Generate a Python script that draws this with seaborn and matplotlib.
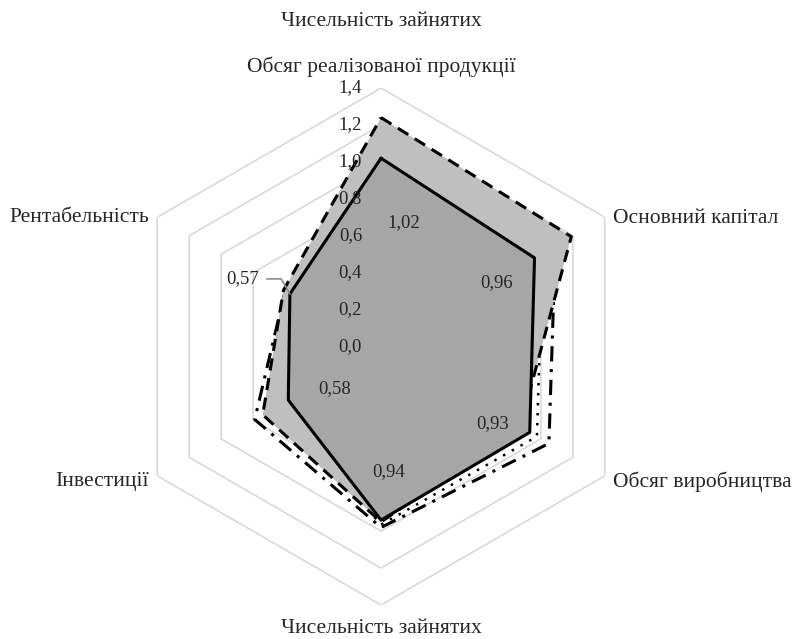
import numpy as np
import pandas as pd
import matplotlib
matplotlib.use('Agg')
import matplotlib.pyplot as plt
import seaborn as sns

sns.set_theme(style='white')
plt.rcParams['font.family'] = ['Liberation Serif', 'DejaVu Serif']

# дані
categories = ['Обсяг реалізованої продукції', 'Основний капітал', 'Обсяг виробництва',
              'Чисельність зайнятих', 'Інвестиції', 'Рентабельність']
light_area = [1.24, 1.19, 0.87, 0.95, 0.74, 0.61]
dark_area = [1.02, 0.96, 0.93, 0.94, 0.58, 0.57]
dashdot_line = [1.10, 1.09, 1.05, 0.98, 0.79, 0.60]
dotted_line = [1.05, 1.01, 0.975, 0.965, 0.65, 0.58]
r_ticks = [0.0, 0.2, 0.4, 0.6, 0.8, 1.0, 1.2, 1.4]
r_tick_labels = ['0,0', '0,2', '0,4', '0,6', '0,8', '1,0', '1,2', '1,4']
dark_labels = ['1,02', '0,96', '0,93', '0,94', '0,58', '0,57']
title = 'Чисельність зайнятих'

TEXT = '#262626'
FS_CAT = 15.5
FS_NUM = 13.5

n = len(categories)
theta = np.linspace(0, 2 * np.pi, n, endpoint=False)
theta_c = np.append(theta, theta[0])


def closed(v):
    return np.append(v, v[0])


fig = plt.figure(figsize=(7.93, 6.39), dpi=100)
ax = fig.add_axes([0.1545, 0.0532, 0.652, 0.809], projection='polar')
ax.set_theta_zero_location('N')
ax.set_theta_direction(-1)
ax.set_ylim(0, 1.4)
ax.grid(False)
ax.set_xticks([])
ax.set_yticks([])
ax.spines['polar'].set_visible(False)
ax.patch.set_alpha(0)

# шестикутна сітка
for t in r_ticks[1:]:
    ax.plot(theta_c, [t] * (n + 1), color='#d9d9d9', lw=1.2, zorder=1)

# лінійні ряди (під заливками)
df_dd = pd.DataFrame({'theta': theta_c, 'r': closed(dashdot_line)})
sns.lineplot(data=df_dd, x='theta', y='r', sort=False, estimator=None, ax=ax,
             color='black', lw=2.2, linestyle=(0, (5, 2.5, 1, 2.5)), zorder=2)
df_dt = pd.DataFrame({'theta': theta_c, 'r': closed(dotted_line)})
sns.lineplot(data=df_dt, x='theta', y='r', sort=False, estimator=None, ax=ax,
             color='black', lw=1.8, linestyle=(0, (1, 3)), zorder=2)

# заливки
ax.fill(theta_c, closed(light_area), color='#bfbfbf', zorder=3, lw=0)
ax.plot(theta_c, closed(light_area), color='black', lw=2.2,
        linestyle=(0, (4, 2.5)), zorder=3.5)
ax.fill(theta_c, closed(dark_area), color='#a6a6a6', zorder=4, lw=0)
ax.plot(theta_c, closed(dark_area), color='black', lw=2.2, zorder=4.5)
ax.set_xlabel('')
ax.set_ylabel('')
ax.set_ylim(0, 1.4)

# підписи шкали
for t, lab in zip(r_ticks, r_tick_labels):
    ax.annotate(lab, xy=(0, t), xytext=(-19, 0), textcoords='offset pixels',
                ha='right', va='center', fontsize=FS_NUM, color=TEXT, zorder=6)

# підписи даних
offsets = [(23, -64), (-38, -25), (-37, 9), (8, 48), (46, 11)]
for i, (dx, dy) in enumerate(offsets):
    ax.annotate(dark_labels[i], xy=(theta[i], dark_area[i]), xytext=(dx, dy),
                textcoords='offset pixels', ha='center', va='center',
                fontsize=FS_NUM, color=TEXT, zorder=6)
ax.annotate(dark_labels[5], xy=(theta[5], dark_area[5]), xytext=(-47, 15),
            textcoords='offset pixels', ha='center', va='center',
            fontsize=FS_NUM, color=TEXT, zorder=6,
            arrowprops=dict(arrowstyle='-', color='#8c8c8c', lw=1.2,
                            shrinkA=3, shrinkB=0,
                            connectionstyle='angle,angleA=0,angleB=120,rad=0'))

# назви осей
cat_pos = [((0, 21), 'center', 'center'),
           ((8, -1), 'left', 'center'),
           ((8, -6), 'left', 'center'),
           ((0, -23), 'center', 'center'),
           ((-8, -6), 'right', 'center'),
           ((-8, 0), 'right', 'center')]
for i, ((dx, dy), ha, va) in enumerate(cat_pos):
    ax.annotate(categories[i], xy=(theta[i], 1.4), xytext=(dx, dy),
                textcoords='offset pixels', ha=ha, va=va,
                fontsize=FS_CAT, color=TEXT, annotation_clip=False)

fig.text(381 / 793, 1 - 22 / 639, title, ha='center', va='center',
         fontsize=FS_CAT, color=TEXT)

fig.savefig('out.png', dpi=100, facecolor='white')
